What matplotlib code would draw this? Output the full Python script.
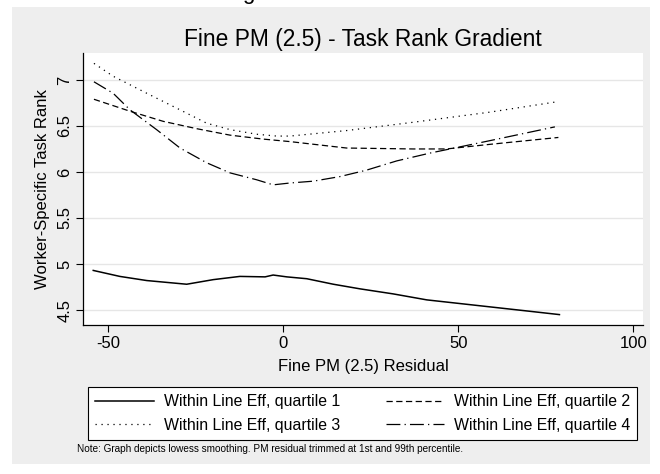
import matplotlib
matplotlib.use("Agg")
import matplotlib.pyplot as plt
from matplotlib.patches import Rectangle

plt.rcParams['font.family'] = ['Liberation Sans', 'DejaVu Sans']
plt.rcParams['lines.scale_dashes'] = False

# lowess curves
q1_x = [-54.3, -46.7, -39, -27.6, -20, -12.4, -5.2, -2.9, 1, 6.7, 14.3, 21.9, 31.4, 41, 50.5, 60, 69.5, 78.9]
q1_y = [4.93, 4.865, 4.82, 4.78, 4.83, 4.865, 4.86, 4.88, 4.86, 4.84, 4.78, 4.73, 4.675, 4.61, 4.57, 4.53, 4.49, 4.45]

q2_x = [-54.1, -43.8, -34.3, -24.7, -15.2, -5.7, 1.9, 18.1, 37.1, 46.6, 59, 78.6]
q2_y = [6.79, 6.66, 6.55, 6.47, 6.40, 6.357, 6.33, 6.26, 6.25, 6.25, 6.30, 6.375]

q3_x = [-54.1, -48.6, -39, -29.5, -21.9, -15.2, -7.6, -1.9, 1.9, 18.1, 37.1, 59, 78.6]
q3_y = [7.18, 7.04, 6.855, 6.675, 6.53, 6.46, 6.41, 6.39, 6.39, 6.45, 6.54, 6.65, 6.765]

q4_x = [-54.1, -48.6, -43.8, -36.2, -29.5, -21.9, -15.2, -7.6, -2.9, 1.9, 8.6, 16.2, 23.8, 32.4, 41.9, 51.4, 59, 77.6]
q4_y = [6.98, 6.855, 6.675, 6.46, 6.26, 6.10, 5.99, 5.915, 5.86, 5.88, 5.90, 5.95, 6.02, 6.12, 6.205, 6.28, 6.34, 6.49]

labels = ['Within Line Eff, quartile 1', 'Within Line Eff, quartile 2',
          'Within Line Eff, quartile 3', 'Within Line Eff, quartile 4']
x_ticks = [-50, 0, 50, 100]
y_ticks = [4.5, 5, 5.5, 6, 6.5, 7]

W, H = 660, 474
fig = plt.figure(figsize=(6.6, 4.74), dpi=100)
fig.patch.set_facecolor('white')

# grey graph region
fig.patches.append(Rectangle((12 / W, 1 - 464 / H), 638 / W, 457 / H,
                             transform=fig.transFigure, facecolor='#eeeeee',
                             edgecolor='none', zorder=-10))
# bottom of a glyph from the page above
fig.text(248 / W, 1 + 1 / H, 'g', fontsize=16, ha='center', va='baseline')

ax = fig.add_axes([83.3 / W, 1 - 325 / H, 560 / W, 272.3 / H])
ax.set_facecolor('white')

lw = 0.9
l1, = ax.plot(q1_x, q1_y, color='black', lw=1.1, linestyle='-')
l2, = ax.plot(q2_x, q2_y, color='black', lw=lw, linestyle=(0, (4.5, 2.5)))
l3, = ax.plot(q3_x, q3_y, color='black', lw=lw, linestyle=(0, (0.9, 3.4)))
l4, = ax.plot(q4_x, q4_y, color='black', lw=lw, linestyle=(0, (10, 3, 0.9, 3)))

ax.set_xlim(-57.14, 102.86)
ax.set_ylim(4.337, 7.296)
ax.set_xticks(x_ticks)
ax.set_xticklabels([str(v) for v in x_ticks])
ax.set_yticks(y_ticks)
ax.set_yticklabels(['4.5', '5', '5.5', '6', '6.5', '7'], rotation=90, va='center')
ax.tick_params(axis='both', direction='out', length=5, width=0.8, labelsize=12, color='black')
ax.tick_params(axis='x', pad=3)
ax.tick_params(axis='y', pad=3)
ax.grid(axis='y', color='#e6e6e6', lw=1.0)
ax.set_axisbelow(True)
for s in ['top', 'right']:
    ax.spines[s].set_visible(False)
for s in ['left', 'bottom']:
    ax.spines[s].set_linewidth(0.9)

ax.set_title('Fine PM (2.5) - Task Rank Gradient', fontsize=16.4, pad=5)
ax.set_xlabel('Fine PM (2.5) Residual', fontsize=12, labelpad=6)
ax.set_ylabel('Worker-Specific Task Rank', fontsize=12, labelpad=5)

leg = fig.legend([l1, l3, l2, l4], [labels[0], labels[2], labels[1], labels[3]],
                 ncol=2, loc='center',
                 bbox_to_anchor=(88.3 / W, 1 - 440 / H, 549 / W, 53 / H),
                 mode='expand', fontsize=11.4, handlelength=3.7, handletextpad=0.6,
                 columnspacing=1.5, labelspacing=0.55, borderaxespad=0,
                 borderpad=0.45,
                 fancybox=False, edgecolor='black', facecolor='white', framealpha=1)
leg.get_frame().set_linewidth(0.8)

fig.text(77 / W, 1 - 449 / H,
         'Note: Graph depicts lowess smoothing. PM residual trimmed at 1st and 99th percentile.',
         fontsize=7.2, va='center', ha='left')

fig.savefig('out.png', dpi=100)
